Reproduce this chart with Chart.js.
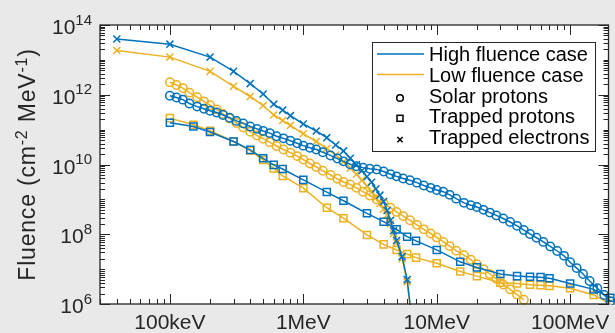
<!DOCTYPE html>
<html><head><meta charset="utf-8">
<script src="https://cdn.jsdelivr.net/npm/chart.js@4/dist/chart.umd.min.js"></script>
<style>html,body{margin:0;padding:0;background:#e9e9e9;}canvas{display:block;}</style>
</head><body>
<canvas id="c" width="615" height="333"></canvas>
<script>
// ---- data (energy in MeV, fluence in cm^-2 MeV^-1) ----
const electronEnergy = [0.04,0.1,0.2,0.3,0.4,0.5,0.6,0.7,0.8,1.0,1.25,1.5,1.75,2.0,2.25,2.5,2.75,3.0,3.25,3.5,3.75,4.0,4.25,4.5,4.75,5.0,5.5,6.0,6.5,7.0];
const electronHigh = [3.98e13,2.82e13,1.20e13,4.68e12,2.09e12,1.05e12,5.37e11,3.63e11,2.51e11,1.45e11,9.12e10,5.89e10,3.63e10,2.45e10,1.51e10,9.77e9,6.61e9,4.47e9,3.09e9,2.00e9,1.32e9,8.71e8,4.79e8,2.51e8,1.26e8,6.61e7,2.29e7,5.01e6,3.98e5,2.0e4];
const electronLow = [1.86e13,1.20e13,4.68e12,1.74e12,8.91e11,4.90e11,2.63e11,1.82e11,1.32e11,7.59e10,4.57e10,2.88e10,1.86e10,1.20e10,7.94e9,5.25e9,3.55e9,2.40e9,1.66e9,1.12e9,7.59e8,5.25e8,3.55e8,2.00e8,1.05e8,5.75e7,2.00e7,4.37e6,3.16e5,1.58e4];

const solarEnergy = [0.1,0.112,0.125,0.14,0.16,0.18,0.2,0.224,0.25,0.28,0.315,0.355,0.4,0.45,0.5,0.56,0.63,0.71,0.8,0.9,1,1.12,1.25,1.4,1.6,1.8,2,2.24,2.5,2.8,3.15,3.55,4,4.5,5,5.6,6.3,7.1,8,9,10,11.2,12.5,14,16,18,20,22.4,25,28,31.5,35.5,40,45,50,56,63,71,80,90,100,112,125,140,160,180,200];
const solarHigh = [9.33e11,8.32e11,7.24e11,5.62e11,4.57e11,3.98e11,3.47e11,3.09e11,2.63e11,2.19e11,1.78e11,1.51e11,1.23e11,1.05e11,9.12e10,7.94e10,6.46e10,5.62e10,4.79e10,4.07e10,3.47e10,3.02e10,2.69e10,2.24e10,1.82e10,1.48e10,1.23e10,1.02e10,8.91e9,8.13e9,7.59e9,7.24e9,6.31e9,5.25e9,4.57e9,3.98e9,3.55e9,3.02e9,2.51e9,2.14e9,1.86e9,1.66e9,1.35e9,1.05e9,7.94e8,6.76e8,6.03e8,5.01e8,4.17e8,3.47e8,2.82e8,2.24e8,1.74e8,1.32e8,1.02e8,7.94e7,6.03e7,4.47e7,3.31e7,2.40e7,1.58e7,1.07e7,7.24e6,4.57e6,2.82e6,1.82e6,1.20e6];
const solarLow = [2.29e12,1.91e12,1.55e12,1.15e12,8.51e11,6.46e11,5.01e11,3.80e11,2.82e11,2.09e11,1.55e11,1.15e11,8.71e10,6.76e10,5.50e10,4.37e10,3.39e10,2.69e10,2.19e10,1.74e10,1.38e10,1.07e10,8.51e9,6.61e9,5.01e9,3.89e9,3.16e9,2.69e9,2.14e9,1.66e9,1.29e9,1.00e9,7.59e8,5.75e8,4.37e8,3.31e8,2.51e8,1.86e8,1.38e8,1.05e8,8.13e7,6.03e7,4.57e7,3.39e7,2.51e7,1.86e7,1.38e7,1.00e7,7.24e6,5.25e6,3.63e6,2.63e6,1.86e6,1.32e6];

const trappedEnergy = [0.1,0.15,0.2,0.3,0.4,0.5,0.6,0.7,1,1.5,2,3,4,5,6,7,10,15,20,30,40,50,60,70,100,150,200];
const trappedHigh = [1.58e11,1.23e11,8.51e10,4.57e10,2.63e10,1.51e10,9.77e9,7.41e9,3.63e9,1.62e9,9.12e8,3.98e8,2.29e8,1.38e8,8.51e7,6.46e7,3.55e7,1.62e7,1.12e7,7.24e6,6.31e6,6.03e6,5.89e6,5.50e6,3.89e6,2.63e6,1.51e6];
const trappedLow = [2.14e11,1.38e11,9.33e10,4.57e10,2.51e10,1.35e10,7.76e9,4.68e9,2.09e9,5.75e8,2.88e8,9.55e7,5.13e7,3.55e7,2.69e7,2.14e7,1.48e7,8.51e6,6.31e6,4.07e6,3.89e6,3.55e6,3.47e6,3.31e6,2.82e6,1.82e6,1.00e6];

const xTickValues = [0.1, 1, 10, 100];
const xTickLabels = ['100keV', '1MeV', '10MeV', '100MeV'];
const yTickExponents = [6, 8, 10, 12, 14];
const legendLabels = ['High fluence case', 'Low fluence case', 'Solar protons', 'Trapped protons', 'Trapped electrons'];
const yTitle = ['Fluence (cm', '-2', ' MeV', '-1', ')'];

// ---- styling ----
const BLUE = '#0072BD', ORANGE = '#EDB120', AX = '#262626';
const FONT = '"Liberation Sans", Arial, Helvetica, sans-serif';

function pts(xs, ys) { return ys.map((y, i) => ({ x: xs[i], y: y })); }
function ds(label, xs, ys, color, style, r) {
  return {
    label, data: pts(xs, ys), borderColor: color, backgroundColor: 'rgba(0,0,0,0)',
    pointBorderColor: color, pointBackgroundColor: 'rgba(0,0,0,0)', pointStyle: style,
    pointRadius: r, pointBorderWidth: 1.5, borderWidth: 1.5, tension: 0,
    clip: { left: 8, top: 8, right: 8, bottom: 1 }
  };
}

const decor = {
  id: 'decor',
  beforeDraw(chart) {
    const { ctx, chartArea: a } = chart;
    ctx.save();
    ctx.fillStyle = '#e9e9e9';
    ctx.fillRect(0, 0, chart.width, chart.height);
    ctx.fillStyle = '#ffffff';
    ctx.fillRect(a.left, a.top, a.right - a.left, a.bottom - a.top);
    ctx.restore();
  },
  afterDraw(chart) {
    const { ctx, chartArea: a } = chart;
    const xs = chart.scales.x, ys = chart.scales.y;
    ctx.save();
    ctx.strokeStyle = AX; ctx.lineWidth = 1;
    // x ticks (inward, top and bottom)
    ctx.beginPath();
    for (let d = -2; d <= 2; d++) for (let m = 1; m <= 9; m++) {
      const v = m * Math.pow(10, d);
      if (v < xs.min || v > xs.max) continue;
      const px = Math.round(xs.getPixelForValue(v)) + 0.5;
      const len = m === 1 ? 10 : 5;
      ctx.moveTo(px, a.bottom); ctx.lineTo(px, a.bottom - len);
      ctx.moveTo(px, a.top); ctx.lineTo(px, a.top + len);
    }
    // y ticks
    for (let d = 6; d <= 14; d++) for (let m = 1; m <= 9; m++) {
      const v = m * Math.pow(10, d);
      if (v < ys.min || v > ys.max) continue;
      const py = Math.round(ys.getPixelForValue(v)) + 0.5;
      const len = (m === 1 && d % 2 === 0) ? 10 : 5;
      ctx.moveTo(a.left, py); ctx.lineTo(a.left + len, py);
      ctx.moveTo(a.right, py); ctx.lineTo(a.right - len, py);
    }
    ctx.stroke();
    ctx.lineWidth = 1.3;
    ctx.strokeRect(a.left, a.top, a.right - a.left, a.bottom - a.top);

    // tick labels
    ctx.fillStyle = AX;
    ctx.textBaseline = 'alphabetic';
    ctx.textAlign = 'center';
    ctx.font = '21px ' + FONT;
    xTickValues.forEach((v, i) => {
      ctx.fillText(xTickLabels[i], xs.getPixelForValue(v), 328.5);
    });
    ctx.textAlign = 'left';
    yTickExponents.forEach(e => {
      const py = ys.getPixelForValue(Math.pow(10, e));
      ctx.font = '15px ' + FONT;
      const w2 = ctx.measureText(String(e)).width;
      ctx.font = '21px ' + FONT;
      const w1 = ctx.measureText('10').width;
      const right = 92;
      ctx.fillText('10', right - w2 - w1, py + 9);
      ctx.font = '15px ' + FONT;
      ctx.fillText(String(e), right - w2, py - 0.5);
    });

    // y title
    const sizes = [23, 16, 23, 16, 23];
    const raise = [0, 8, 0, 8, 0];
    ctx.letterSpacing = '0.8px';
    let total = 0;
    yTitle.forEach((t, i) => { ctx.font = sizes[i] + 'px ' + FONT; total += ctx.measureText(t).width; });
    ctx.translate(35, (a.top + a.bottom) / 2);
    ctx.rotate(-Math.PI / 2);
    let u = -total / 2;
    yTitle.forEach((t, i) => {
      ctx.font = sizes[i] + 'px ' + FONT;
      ctx.fillText(t, u, -raise[i]);
      u += ctx.measureText(t).width;
    });
    ctx.setTransform(1, 0, 0, 1, 0, 0);
    ctx.letterSpacing = '0px';

    // legend
    const bx = 372.5, by = 42.5, bw = 223, bh = 109;
    ctx.fillStyle = '#ffffff';
    ctx.fillRect(bx, by, bw, bh);
    ctx.strokeStyle = AX; ctx.lineWidth = 1;
    ctx.strokeRect(bx, by, bw, bh);
    const base = [61, 81.8, 102.6, 123.4, 144.2];
    ctx.lineWidth = 1.5;
    ctx.strokeStyle = BLUE;
    ctx.beginPath(); ctx.moveTo(377, 54); ctx.lineTo(424, 54); ctx.stroke();
    ctx.strokeStyle = ORANGE;
    ctx.beginPath(); ctx.moveTo(377, 74.5); ctx.lineTo(424, 74.5); ctx.stroke();
    ctx.strokeStyle = '#000';
    const mx = 400;
    ctx.beginPath(); ctx.arc(mx, 98, 3.3, 0, Math.PI * 2); ctx.stroke();
    ctx.strokeRect(mx - 3, 115.3, 6, 6);
    ctx.beginPath();
    ctx.moveTo(mx - 2.6, 137); ctx.lineTo(mx + 2.6, 142.2);
    ctx.moveTo(mx + 2.6, 137); ctx.lineTo(mx - 2.6, 142.2);
    ctx.stroke();
    ctx.fillStyle = '#000';
    ctx.font = '20px ' + FONT;
    legendLabels.forEach((t, i) => ctx.fillText(t, 429, base[i]));
    ctx.restore();
  }
};

new Chart(document.getElementById('c'), {
  type: 'line',
  data: {
    datasets: [
      ds('High – trapped electrons', electronEnergy, electronHigh, BLUE, 'crossRot', 5),
      ds('High – solar protons', solarEnergy, solarHigh, BLUE, 'circle', 4.2),
      ds('High – trapped protons', trappedEnergy, trappedHigh, BLUE, 'rect', 5),
      ds('Low – trapped electrons', electronEnergy, electronLow, ORANGE, 'crossRot', 5),
      ds('Low – solar protons', solarEnergy, solarLow, ORANGE, 'circle', 4.2),
      ds('Low – trapped protons', trappedEnergy, trappedLow, ORANGE, 'rect', 5)
    ]
  },
  options: {
    responsive: false, animation: false, devicePixelRatio: 1,
    layout: { padding: { left: 100, top: 25, right: 2, bottom: 29 } },
    plugins: { legend: { display: false }, tooltip: { enabled: false } },
    scales: {
      x: { type: 'logarithmic', min: 0.02993, max: 193.9, display: false },
      y: { type: 'logarithmic', min: 1e6, max: 1e14, display: false }
    }
  },
  plugins: [decor]
});
</script>
</body></html>
